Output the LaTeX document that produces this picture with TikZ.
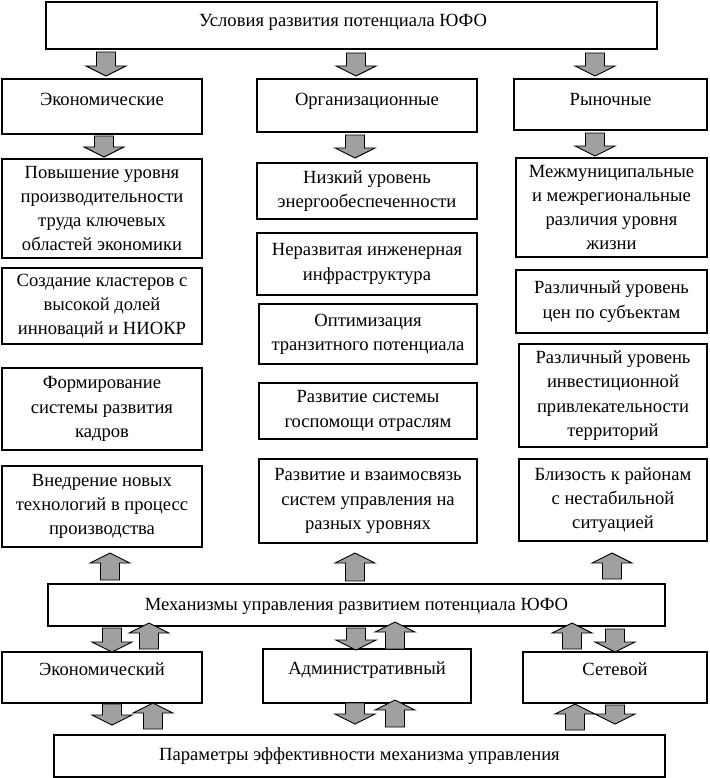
\documentclass[tikz,border=0pt]{standalone}
\usepackage{fontspec}
\setmainfont{Liberation Serif}
\usetikzlibrary{fit}
\definecolor{agray}{RGB}{160,160,160}
\tikzset{
  box/.style={draw, line width=1.1pt, inner sep=0pt},
  txt/.style={font=\fontsize{18.6}{24.3}\selectfont, align=center, inner sep=0pt},
  txtone/.style={txt, text height=13pt, text depth=4pt},
  barrow/.style={draw, line width=0.9pt, fill=agray, line join=miter},
}
\newcommand\barrowdown[3]{\draw[barrow] ({#1-9.5},{#2}) -- ({#1+9.5},{#2}) -- ({#1+9.5},{#3-10}) -- ({#1+20},{#3-10}) -- ({#1},{#3}) -- ({#1-20},{#3-10}) -- ({#1-9.5},{#3-10}) -- cycle;}
\newcommand\barrowup[3]{\draw[barrow] ({#1-9.5},{#2}) -- ({#1+9.5},{#2}) -- ({#1+9.5},{#3+10}) -- ({#1+20},{#3+10}) -- ({#1},{#3}) -- ({#1-20},{#3+10}) -- ({#1-9.5},{#3+10}) -- cycle;}
\begin{document}
\begin{tikzpicture}[x=1pt,y=-1pt]
\useasboundingbox (0,0) rectangle (709,778);
% top
\node[box, fit={(46,2) (657,49)}] (top) {};
\node[txtone] (topt) at (343,22) {Условия развития потенциала ЮФО};
% row 2
\node[box, fit={(2,79) (202,134)}] (ec) {};
\node[txtone] (ect) at (102,101) {Экономические};
\node[box, fit={(257,79) (477,132)}] (org) {};
\node[txtone] (orgt) at (367,101) {Организационные};
\node[box, fit={(514,79) (707,130)}] (mkt) {};
\node[txtone] (mktt) at (610.5,101) {Рыночные};
% left column
\node[box, fit={(2,159) (202,258)}] (a1) {};
\node[txt] (a1t) at (a1) {Повышение уровня\\производительности\\труда ключевых\\областей экономики};
\node[box, fit={(2,268) (202,344)}] (a2) {};
\node[txt] (a2t) at (a2) {Создание кластеров с\\высокой долей\\инноваций и НИОКР};
\node[box, fit={(2,368) (202,450)}] (a3) {};
\node[txt] (a3t) at (a3) {Формирование\\системы развития\\кадров};
\node[box, fit={(2,466) (202,547)}] (a4) {};
\node[txt] (a4t) at (a4) {Внедрение новых\\технологий в процесс\\производства};
% middle column
\node[box, fit={(257,163) (477,219)}] (b1) {};
\node[txt] (b1t) at (b1) {Низкий уровень\\энергообеспеченности};
\node[box, fit={(257,233) (477,295)}] (b2) {};
\node[txt] (b2t) at (b2) {Неразвитая инженерная\\инфраструктура};
\node[box, fit={(259,304) (477,364)}] (b3) {};
\node[txt] (b3t) at (b3) {Оптимизация\\транзитного потенциала};
\node[box, fit={(259,383) (477,439)}] (b4) {};
\node[txt] (b4t) at (b4) {Развитие системы\\госпомощи отраслям};
\node[box, fit={(259,459) (477,543)}] (b5) {};
\node[txt] (b5t) at (b5) {Развитие и взаимосвязь\\систем управления на\\разных уровнях};
% right column
\node[box, fit={(516,158) (707,257)}] (c1) {};
\node[txt] (c1t) at (c1) {Межмуниципальные\\и межрегиональные\\различия уровня\\жизни};
\node[box, fit={(516,270) (707,333)}] (c2) {};
\node[txt] (c2t) at (c2) {Различный уровень\\цен по субъектам};
\node[box, fit={(519,344) (707,447)}] (c3) {};
\node[txt] (c3t) at (c3) {Различный уровень\\инвестиционной\\привлекательности\\территорий};
\node[box, fit={(519,459) (707,541)}] (c4) {};
\node[txt] (c4t) at (c4) {Близость к районам\\с нестабильной\\ситуацией};
% mechanisms
\node[box, fit={(48,584) (665,626)}] (mech) {};
\node[txtone] (mecht) at (356.5,606) {Механизмы управления развитием потенциала ЮФО};
\node[box, fit={(2,652) (202,703)}] (eco) {};
\node[txtone] (ecot) at (102,671) {Экономический};
\node[box, fit={(263,649) (471,703)}] (adm) {};
\node[txtone] (admt) at (367,670) {Административный};
\node[box, fit={(523,652) (707,703)}] (net) {};
\node[txtone] (nett) at (615,671) {Сетевой};
\node[box, fit={(54,735) (665,777)}] (par) {};
\node[txtone] (part) at (359.5,756) {Параметры эффективности механизма управления};
% block arrows
\barrowdown{106}{52}{76}
\barrowdown{356}{53}{76}
\barrowdown{595}{53}{76}
\barrowdown{104}{136}{157}
\barrowdown{355}{135}{158}
\barrowdown{595}{133}{156}
\barrowup{110}{580}{553}
\barrowup{355}{581}{553}
\barrowup{612}{579}{553}
\barrowdown{112}{628}{652}
\barrowup{149}{649}{623}
\barrowdown{356}{628}{650}
\barrowup{395}{649}{622}
\barrowup{572}{649}{623}
\barrowdown{615}{629}{652}
\barrowdown{112}{704}{725}
\barrowup{153}{729}{703}
\barrowdown{355}{703}{724}
\barrowup{395}{727}{700}
\barrowup{575}{730}{704}
\barrowdown{615}{705}{724}
\end{tikzpicture}
\end{document}
